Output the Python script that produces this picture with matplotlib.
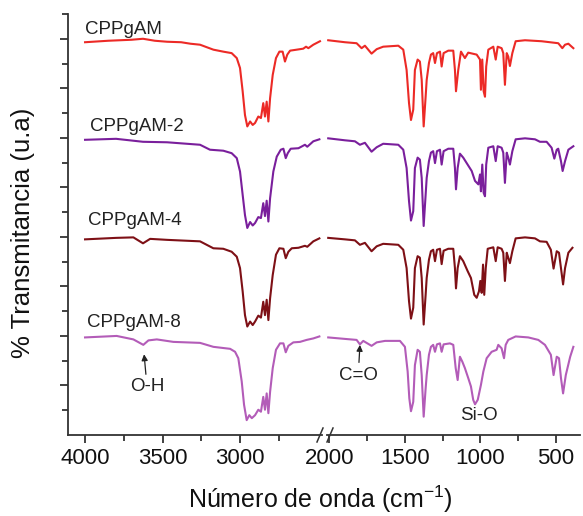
import numpy as np
import matplotlib
matplotlib.use("Agg")
import matplotlib.pyplot as plt
from matplotlib.ticker import FixedLocator

plt.rcParams['font.family'] = ['Liberation Sans', 'DejaVu Sans']
plt.rcParams['mathtext.fontset'] = 'custom'
plt.rcParams['mathtext.rm'] = 'Liberation Sans'

names = ['CPPgAM', 'CPPgAM-2', 'CPPgAM-4', 'CPPgAM-8']
colors = ['#ec2a26', '#7a1f9c', '#7e1016', '#b35cb8']

# wavenumber (cm-1) and transmittance (a.u., curves stacked)
wn_a = [4000, 3850, 3700, 3626, 3550, 3471, 3380, 3320, 3258, 3172, 3108, 3054, 3021, 3000,
        2983, 2968, 2953, 2935, 2918, 2903, 2882, 2865, 2850, 2839, 2828, 2817, 2806, 2789,
        2768, 2746, 2725, 2710, 2695, 2677, 2634, 2592, 2574, 2559, 2527, 2484,
        2008, 1897, 1820, 1787, 1765, 1721, 1687, 1644, 1544, 1511, 1489, 1473, 1460, 1445,
        1434, 1416, 1401, 1389, 1376, 1363, 1356, 1341, 1328, 1313, 1301, 1288, 1268, 1257,
        1244, 1213, 1180, 1169, 1162, 1147, 1129, 1103, 1081, 1025, 1003, 997, 988, 979,
        970, 962, 948, 915, 899, 886, 860, 849, 838, 826, 816, 805, 789, 767, 705, 595,
        485, 458, 440, 418, 385]
t_a = [79.3, 79.6, 79.8, 80.0, 79.6, 79.4, 79.3, 79.0, 78.8, 77.8, 77.4, 77.1, 76.1, 74.1,
       69.4, 64.6, 62.3, 63.3, 62.6, 63.0, 64.3, 64.0, 67.0, 64.3, 67.3, 63.3, 68.0, 72.7,
       76.1, 77.4, 77.4, 75.4, 76.8, 77.6, 77.8, 78.0, 78.4, 78.1, 78.8, 79.5,
       79.7, 79.3, 79.1, 78.1, 78.6, 77.0, 77.9, 78.4, 78.6, 77.8, 73.7, 67.0, 63.6, 65.7,
       73.7, 75.8, 75.4, 71.7, 62.3, 68.3, 71.7, 75.1, 76.8, 77.1, 75.1, 77.1, 77.4, 74.4,
       77.1, 77.6, 77.6, 73.7, 69.4, 73.7, 77.4, 76.1, 77.2, 76.8, 75.8, 69.7, 75.8, 69.4,
       68.3, 74.4, 77.8, 78.4, 75.8, 78.4, 78.1, 77.1, 70.7, 77.1, 76.4, 74.5, 77.1, 79.5,
       79.7, 79.5, 79.1, 78.1, 78.8, 79.0, 78.1]

wn_b = [4000, 3800, 3626, 3471, 3258, 3194, 3108, 3054, 3021, 3000, 2983, 2968, 2953, 2935,
        2918, 2903, 2882, 2865, 2850, 2839, 2828, 2817, 2806, 2785, 2763, 2737, 2720, 2705,
        2692, 2673, 2623, 2581, 2566, 2527, 2488,
        2008, 1897, 1831, 1798, 1765, 1721, 1687, 1644, 1544, 1511, 1489, 1473, 1460, 1445,
        1434, 1416, 1401, 1389, 1376, 1363, 1356, 1341, 1328, 1313, 1301, 1288, 1268, 1257,
        1244, 1213, 1180, 1169, 1162, 1151, 1136, 1114, 1085, 1058, 1036, 1014, 1003, 997,
        988, 979, 970, 962, 948, 915, 899, 886, 860, 849, 838, 826, 816, 805, 789, 767,
        705, 639, 606, 562, 529, 511, 495, 485, 467, 456, 440, 418, 385]
t_b = [59.6, 59.8, 59.2, 59.1, 58.6, 57.6, 57.4, 56.9, 55.9, 53.2, 48.5, 44.4, 41.8, 43.0,
       42.3, 42.8, 44.0, 43.8, 46.8, 44.2, 47.3, 43.1, 47.8, 53.2, 56.2, 57.6, 57.8, 55.9,
       56.9, 57.8, 57.9, 58.6, 58.2, 59.3, 59.7,
       59.9, 59.5, 59.3, 58.6, 59.0, 57.2, 58.1, 58.8, 58.6, 57.6, 53.9, 47.2, 43.3, 45.2,
       53.9, 56.0, 55.6, 51.9, 42.2, 48.5, 51.9, 55.3, 57.0, 57.3, 54.9, 57.3, 57.6, 54.6,
       57.3, 57.8, 57.8, 53.9, 49.6, 53.9, 56.8, 56.0, 54.6, 53.3, 51.3, 50.6, 52.6, 49.2,
       54.6, 48.9, 48.2, 54.6, 58.0, 58.3, 55.3, 58.3, 58.0, 57.0, 50.9, 57.0, 56.0, 54.6,
       57.3, 59.7, 59.9, 59.7, 59.2, 59.2, 58.0, 55.8, 57.6, 57.8, 55.3, 53.3, 55.3, 57.6, 58.3]

wn_c = [4000, 3800, 3688, 3626, 3580, 3471, 3258, 3172, 3108, 3054, 3021, 3000, 2983, 2968,
        2953, 2935, 2918, 2903, 2882, 2865, 2850, 2839, 2828, 2817, 2806, 2789, 2768, 2746,
        2720, 2705, 2688, 2666, 2623, 2581, 2566, 2527, 2488,
        2008, 1897, 1831, 1798, 1765, 1721, 1687, 1644, 1544, 1511, 1489, 1473, 1460, 1445,
        1434, 1416, 1401, 1389, 1376, 1363, 1356, 1341, 1328, 1313, 1301, 1288, 1268, 1257,
        1244, 1213, 1180, 1169, 1162, 1151, 1136, 1114, 1085, 1063, 1041, 1025, 1010, 1001,
        992, 983, 975, 965, 952, 915, 899, 886, 860, 849, 838, 826, 816, 805, 789, 767,
        705, 639, 606, 562, 534, 516, 495, 480, 467, 453, 440, 418, 391]
t_c = [39.5, 39.8, 39.9, 38.7, 39.6, 39.4, 39.1, 37.7, 37.6, 37.0, 36.0, 33.7, 29.0, 24.2,
       21.9, 22.9, 22.2, 22.9, 24.1, 23.7, 26.9, 24.2, 27.3, 23.2, 27.6, 32.3, 36.4, 37.7,
       37.6, 35.7, 37.0, 37.7, 37.8, 38.2, 38.0, 39.1, 39.7,
       39.8, 39.5, 39.3, 38.4, 38.8, 37.1, 38.1, 38.6, 38.4, 37.4, 33.7, 27.0, 23.5, 25.7,
       33.7, 36.1, 35.8, 31.7, 22.3, 28.3, 31.7, 35.4, 37.1, 37.4, 35.1, 37.4, 37.6, 34.5,
       37.2, 37.6, 37.6, 33.7, 29.6, 33.7, 36.1, 35.1, 33.1, 31.7, 28.3, 27.7, 29.0, 31.1,
       28.7, 34.4, 28.3, 33.7, 37.6, 37.9, 35.1, 37.9, 37.6, 36.8, 31.1, 36.8, 35.8, 34.7,
       37.1, 39.7, 39.9, 39.7, 39.1, 39.0, 37.4, 33.6, 37.1, 36.8, 33.7, 30.4, 33.7, 36.8, 37.8]

wn_d = [4000, 3796, 3688, 3624, 3591, 3537, 3430, 3258, 3172, 3064, 3032, 3011, 2989, 2974,
        2957, 2940, 2924, 2903, 2882, 2865, 2850, 2839, 2828, 2817, 2806, 2789, 2768, 2742,
        2720, 2705, 2688, 2656, 2613, 2570, 2527, 2488,
        2008, 1897, 1820, 1798, 1776, 1721, 1687, 1632, 1533, 1500, 1482, 1471, 1460, 1445,
        1434, 1416, 1401, 1389, 1376, 1363, 1356, 1341, 1328, 1313, 1301, 1288, 1268, 1257,
        1244, 1202, 1180, 1164, 1151, 1136, 1120, 1103, 1081, 1063, 1048, 1036, 1018, 997,
        981, 959, 926, 893, 882, 860, 844, 833, 816, 767, 683, 617, 573, 534, 516, 495,
        480, 467, 453, 435, 406, 385]
t_d = [19.7, 20.0, 19.3, 18.2, 19.1, 19.3, 18.8, 18.6, 17.8, 17.4, 16.8, 15.5, 10.8, 6.1,
       3.0, 4.0, 3.4, 4.0, 5.1, 4.7, 7.7, 5.1, 8.4, 4.4, 8.7, 13.5, 17.2, 18.5,
       18.5, 16.7, 18.0, 18.7, 18.8, 19.2, 19.5, 19.9,
       19.7, 19.4, 19.2, 18.3, 19.0, 18.0, 18.7, 19.0, 19.0, 17.8, 12.8, 7.4, 4.8, 6.7,
       14.1, 17.2, 16.8, 12.1, 3.7, 9.4, 12.1, 16.2, 17.8, 18.2, 16.8, 18.3, 18.5, 16.8,
       18.3, 18.5, 18.2, 13.5, 11.1, 15.8, 14.8, 13.5, 11.5, 9.8, 7.1, 6.2, 7.1, 10.1,
       12.8, 15.5, 16.8, 17.2, 18.2, 17.5, 15.5, 18.2, 19.2, 19.9, 19.7, 19.2, 18.2, 16.2, 12.1, 15.8,
       15.5, 11.5, 8.4, 12.1, 15.8, 17.8]

label_y = [81.8, 62.2, 43.4, 22.8]
label_x = [4000, 3968, 3980, 3985]
spectra = [(wn_a, t_a), (wn_b, t_b), (wn_c, t_c), (wn_d, t_d)]

fig = plt.figure(figsize=(5.83, 5.16), dpi=100)
ax1 = fig.add_axes([68 / 583, 81 / 516, 254 / 583, 421 / 516])
ax2 = fig.add_axes([327 / 583, 81 / 516, 253 / 583, 421 / 516], sharey=ax1)

for (w, t), c in zip(spectra, colors):
    w = np.array(w)
    t = np.array(t)
    hi = w > 2200
    ax1.plot(w[hi], t[hi], color=c, lw=1.5)
    ax2.plot(w[~hi], t[~hi], color=c, lw=1.5)

for nm, x, y in zip(names, label_x, label_y):
    ax1.text(x, y, nm, fontsize=13.5, ha='left', va='center', color='#222222')

arrow = dict(arrowstyle='-|>', color='#222222', lw=0.9, mutation_scale=9, shrinkA=1, shrinkB=0)
ax1.annotate('O-H', xy=(3619, 16.3), xytext=(3600, 9.7), fontsize=13.5, ha='center',
             va='center', color='#222222', arrowprops=arrow)
ax2.annotate('C=O', xy=(1798, 18.2), xytext=(1809, 12.1), fontsize=13.5, ha='center',
             va='center', color='#222222', arrowprops=arrow)
ax2.text(1010, 4.0, 'Si-O', fontsize=13.5, ha='center', va='center', color='#222222')

ax1.set_xlim(4110, 2471)
ax2.set_xlim(2016, 341)
ax1.set_ylim(0, 85)

ax1.xaxis.set_major_locator(FixedLocator([4000, 3500, 3000]))
ax1.xaxis.set_minor_locator(FixedLocator([3750, 3250, 2750]))
ax2.xaxis.set_major_locator(FixedLocator([2000, 1500, 1000, 500]))
ax2.xaxis.set_minor_locator(FixedLocator([1750, 1250, 750]))
ax1.yaxis.set_major_locator(FixedLocator(np.arange(10, 85, 10)))
ax1.yaxis.set_minor_locator(FixedLocator(np.arange(5, 86, 10)))

for ax in (ax1, ax2):
    for s in ('top', 'right'):
        ax.spines[s].set_visible(False)
    ax.spines['bottom'].set_linewidth(1.3)
    ax.spines['left'].set_linewidth(1.3)
    ax.spines['bottom'].set_color('#333333')
    ax.spines['left'].set_color('#333333')
    ax.tick_params(axis='both', which='major', direction='out', length=6, width=1.3,
                   labelsize=16, pad=3, colors='#333333', labelcolor='#111111')
    ax.tick_params(axis='both', which='minor', direction='out', length=4, width=1.3,
                   colors='#333333')
    ax.set_facecolor('none')

ax2.spines['left'].set_visible(False)
ax2.tick_params(axis='y', which='both', left=False, labelleft=False)
ax1.tick_params(axis='y', which='both', labelleft=False)

ax1.set_ylabel('% Transmitancia (u.a)', fontsize=18.5, color='#111111')
ax1.yaxis.set_label_coords(-0.13, 0.48)
fig.text(320 / 583, 1 - 499 / 516, 'Número de onda (cm$^{\\mathrm{-1}}$)', fontsize=18,
         ha='center', va='center', color='#111111')

# axis break marks
yb = 81 / 516
for xb in (320 / 583, 330 / 583):
    fig.add_artist(plt.Line2D([xb - 3 / 583, xb + 3 / 583], [yb - 7 / 516, yb + 7 / 516],
                              color='#333333', lw=1.1, transform=fig.transFigure))

fig.savefig('out.png', dpi=100)
